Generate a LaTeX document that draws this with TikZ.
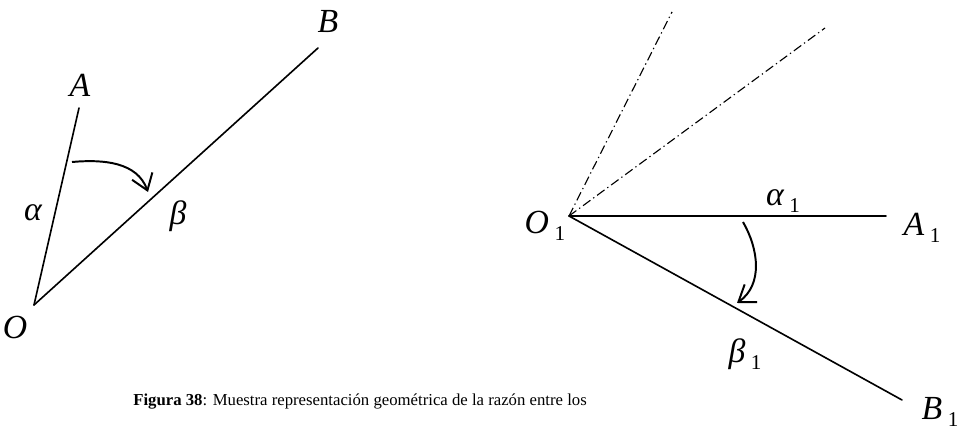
\documentclass[tikz,border=0pt]{standalone}
\usepackage{fontspec}
\setmainfont{Liberation Serif}
\usetikzlibrary{arrows.meta}
\tikzset{
  ray/.style={line width=1.15pt, line cap=round},
  aux/.style={line width=0.8pt, dash pattern=on 6.5pt off 2.5pt on 0.9pt off 2.5pt},
  turn/.style={-{Straight Barb[length=3.8mm,width=5.4mm]}, line width=1.4pt},
  lbl/.style={font=\fontsize{24}{27}\selectfont\itshape, inner sep=0pt},
  capt/.style={font=\fontsize{11.9}{14}\selectfont, inner sep=0pt},
}
\newcommand{\idx}[1]{\,\raisebox{-0.22em}{\fontsize{15}{17}\selectfont\upshape #1}}

\begin{document}
\begin{tikzpicture}[x=0.025cm,y=0.025cm]
  \useasboundingbox (0,0) rectangle (960,438);
  \coordinate (o) at (34,133);
  \coordinate (a) at (79,330);
  \coordinate (b) at (318,390);
  \draw[ray] (o) -- (a); \draw[ray] (o) -- (b);
  \node[lbl] (la) at (80,353) {A};
  \node[lbl] (lb) at (328,416) {B};
  \node[lbl] (lo) at (15,111) {O};
  \node[lbl] (lal) at (33,225) {α};
  \node[lbl] (lbe) at (178,222) {β};
  \coordinate (s) at (72,276); \coordinate (t) at (148,246);
  \draw[turn] (s) to[out=5,in=110] (t);

  \coordinate (o1) at (569,222);
  \coordinate (a1) at (886,222);
  \coordinate (b1) at (902,38);
  \coordinate (d1) at (672,426);
  \coordinate (d2) at (825,410);
  \draw[aux] (o1) -- (d1); \draw[aux] (o1) -- (d2);
  \draw[ray] (o1) -- (a1); \draw[ray] (o1) -- (b1);
  \node[lbl] (lo1) at (545,212) {O\idx{1}};
  \node[lbl] (la1) at (922,210) {A\idx{1}};
  \node[lbl] (lb1) at (940,26) {B\idx{1}};
  \node[lbl] (lal1) at (783,237) {α\idx{1}};
  \node[lbl] (lbe1) at (745,84) {β\idx{1}};
  \coordinate (s1) at (743,216); \coordinate (t1) at (737,135);
  \draw[turn] (s1) to[out=-60,in=35] (t1);

  \node[capt, anchor=base west] (fig) at (133,32)
    {\textbf{Figura 38}: Muestra representación geométrica de la razón entre los};
\end{tikzpicture}
\end{document}
